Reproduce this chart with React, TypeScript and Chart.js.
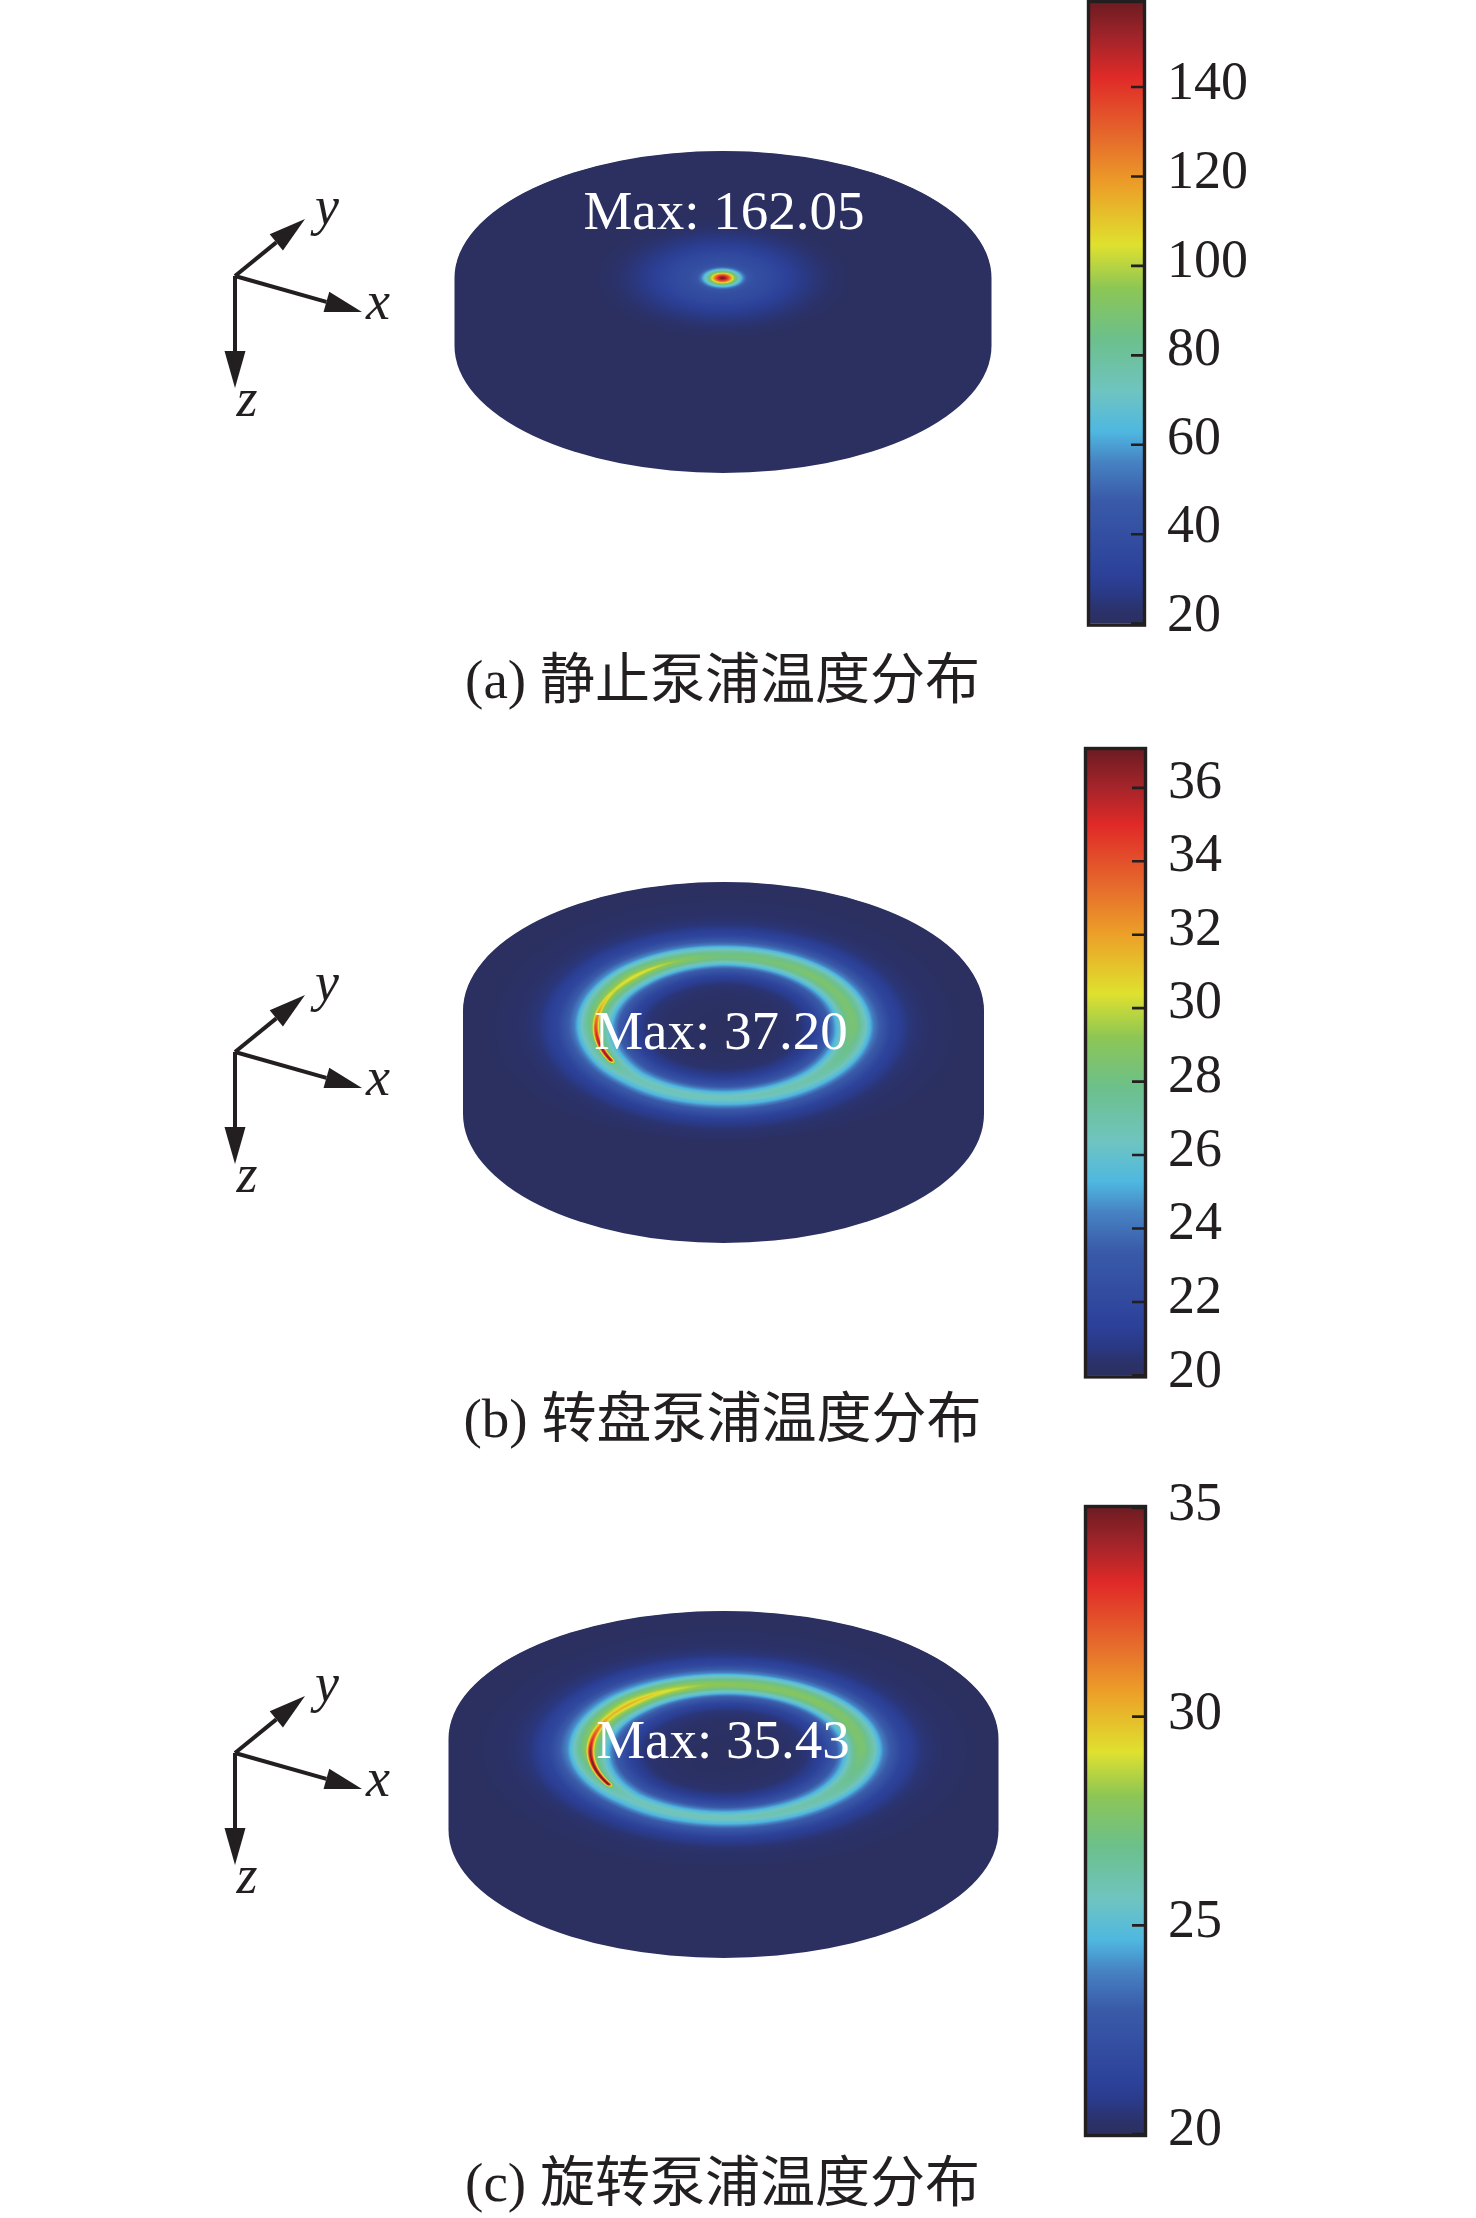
import React, { useEffect, useRef } from "react";
import { Chart, registerables } from "chart.js";

Chart.register(...registerables);

const INK = "#231f20";
const SERIF = '"Liberation Serif", "Times New Roman", serif';
const BASE_TEMPERATURE = 20;
const DISC_RADIUS_MM = 25;

// Colour bar values
const barMaxA = 158.8;
const barMaxB = 37.03;
const barMaxC = 35;
const stepA = 20;
const stepB = 2;
const stepC = 5;

// Colour map (fraction of range, rgb)
const cmapFractions = [0, 0.02, 0.05, 0.08, 0.2, 0.26, 0.31, 0.375, 0.46, 0.54, 0.61, 0.705, 0.78, 0.88, 0.945, 1];
const cmapColours = [
  [43, 48, 96], [43, 50, 106], [42, 58, 135], [44, 65, 153], [58, 91, 169], [70, 130, 195], [79, 184, 224], [111, 196, 192],
  [108, 192, 139], [140, 198, 85], [223, 225, 47], [236, 160, 40], [230, 108, 44], [224, 42, 40], [160, 36, 42], [110, 28, 34],
];

// Panel (a): temperature against distance from the pump spot
const spotRadiusMm = [0, 0.28, 0.56, 0.75, 0.94, 1.12, 1.4, 1.7, 2.06, 2.43, 3, 4.7, 6, 7.5, 8.5, 9.8, 11, 12.5];
const spotTemperature = [162, 150, 135, 122, 108, 95, 80, 65, 52, 43, 40, 36, 31, 27, 25, 23, 21, 20];

// Panels (b), (c): pump ring
const ringAnglesDeg = [0, 45, 90, 135, 180, 210, 225, 270, 315, 360];
const ringPeakB = [28.5, 28.6, 28.2, 29.6, 28.5, 27.5, 26.7, 26.5, 27, 28.5];
const ringPeakC = [27.5, 27.8, 28, 29.1, 28, 26.5, 25.8, 25.8, 26.2, 27.5];
const ringRho = [0, 0.4, 0.6, 0.72, 0.82, 0.9, 0.96, 1, 1.04, 1.1, 1.17, 1.3, 1.45, 1.6, 1.8, 2];
const ringFraction = [0, 0.015, 0.06, 0.18, 0.4, 0.72, 0.96, 1, 0.96, 0.78, 0.5, 0.2, 0.07, 0.03, 0.008, 0];
const streakAnglesB = [0, 100, 125, 150, 165, 180, 195, 208, 211, 360];
const streakExtraB = [0, 0, 1, 1, 3, 6, 8.5, 9.5, 0, 0];
const streakAnglesC = [0, 100, 125, 150, 165, 180, 195, 210, 213, 360];
const streakExtraC = [0, 0, 1, 1.5, 4, 6.5, 8, 9, 0, 0];
const streakOffset = [0, 0.01, 0.02, 0.035];
const streakFraction = [1, 0.8, 0.35, 0];

const maxLabels = ["Max: 162.05", "Max: 37.20", "Max: 35.43"];
const captions = ["(a) 静止泵浦温度分布", "(b) 转盘泵浦温度分布", "(c) 旋转泵浦温度分布"];

function interp(xs: number[], ys: number[], x: number) {
  if (x <= xs[0]) return ys[0];
  for (let i = 1; i < xs.length; i++) {
    if (x <= xs[i]) {
      const t = (x - xs[i - 1]) / (xs[i] - xs[i - 1]);
      return ys[i - 1] + (ys[i] - ys[i - 1]) * t;
    }
  }
  return ys[ys.length - 1];
}

const cmapChannels = [0, 1, 2].map((k) => cmapColours.map((v) => v[k]));
function colourAt(f: number) {
  const c = Math.max(0, Math.min(1, f));
  return cmapChannels.map((ch) => interp(cmapFractions, ch, c));
}

type Field = (x: number, y: number) => number;

const spotField = (x0: number, y0: number): Field => (x, y) =>
  interp(spotRadiusMm, spotTemperature, Math.hypot(x - x0, y - y0));

const ringField = (
  x0: number, y0: number, rx: number, ry: number,
  peak: number[], sAngles: number[], sExtra: number[],
): Field => (x, y) => {
  const dx = (x - x0) / rx;
  const dy = (y - y0) / ry;
  const rho = Math.hypot(dx, dy);
  let th = (Math.atan2(dy, dx) * 180) / Math.PI;
  if (th < 0) th += 360;
  const p = interp(ringAnglesDeg, peak, th);
  const t = BASE_TEMPERATURE + (p - BASE_TEMPERATURE) * interp(ringRho, ringFraction, rho);
  return t + interp(sAngles, sExtra, th) * interp(streakOffset, streakFraction, Math.abs(rho - 1));
};

const panels = [
  {
    top: 0, height: 720, cx: 723, cy: 278, rx: 268.5, ry: 127, drop: 68, barMax: barMaxA, step: stepA,
    field: spotField(-0.05, 0), triad: [235, 276], label: maxLabels[0], labelPos: [724, 213], caption: captions[0], captionY: 680,
    bar: { left: 1090, right: 1143, top: 3, bottom: 623.6 }, lift: [1, 7],
  },
  {
    top: 720, height: 740, cx: 723.5, cy: 1011, rx: 260.5, ry: 129, drop: 103, barMax: barMaxB, step: stepB,
    field: ringField(0.05, -3.1, 12.3, 13.7, ringPeakB, streakAnglesB, streakExtraB),
    triad: [235, 1052], label: maxLabels[1], labelPos: [721, 1033], caption: captions[1], captionY: 1419,
    bar: { left: 1087, right: 1144, top: 750, bottom: 1375.4 }, lift: [4.5, 3],
  },
  {
    top: 1460, height: 758, cx: 723.5, cy: 1739, rx: 275, ry: 128, drop: 91, barMax: barMaxC, step: stepC,
    field: ringField(0.2, -2.34, 12.3, 13, ringPeakC, streakAnglesC, streakExtraC),
    triad: [235, 1753], label: maxLabels[2], labelPos: [723, 1742], caption: captions[2], captionY: 2183,
    bar: { left: 1087, right: 1144, top: 1508, bottom: 2134 }, lift: [2, 3],
  },
];
type Panel = (typeof panels)[number];

function arrow(ctx: CanvasRenderingContext2D, ox: number, oy: number, tx: number, ty: number) {
  const len = Math.hypot(tx - ox, ty - oy);
  const ux = (tx - ox) / len;
  const uy = (ty - oy) / len;
  const bx = tx - ux * 37;
  const by = ty - uy * 37;
  ctx.strokeStyle = INK;
  ctx.fillStyle = INK;
  ctx.lineWidth = 4;
  ctx.beginPath();
  ctx.moveTo(ox, oy);
  ctx.lineTo(bx, by);
  ctx.stroke();
  ctx.beginPath();
  ctx.moveTo(tx, ty);
  ctx.lineTo(bx - uy * 10.5, by + ux * 10.5);
  ctx.lineTo(bx + uy * 10.5, by - ux * 10.5);
  ctx.closePath();
  ctx.fill();
}

function FieldChart({ panel }: { panel: Panel }) {
  const ref = useRef<HTMLCanvasElement>(null);
  useEffect(() => {
    const W = 1084;
    const H = panel.height;
    const kx = panel.rx / DISC_RADIUS_MM;
    const ky = panel.ry / DISC_RADIUS_MM;
    const cyLocal = panel.cy - panel.top;
    const heat = {
      id: "heat",
      beforeDatasetsDraw(chart: any) {
        const { ctx, scales } = chart;
        const sx = scales.x;
        const sy = scales.y;
        const px = sx.getPixelForValue(0);
        const py = sy.getPixelForValue(0);
        const rx = Math.abs(sx.getPixelForValue(DISC_RADIUS_MM) - px);
        const ry = Math.abs(sy.getPixelForValue(DISC_RADIUS_MM) - py);
        const drop = Math.abs(sy.getPixelForValue(-panel.drop / ky) - py);
        ctx.save();
        // disc silhouette
        ctx.fillStyle = "rgb(43,48,96)";
        ctx.beginPath();
        ctx.ellipse(px, py, rx, ry, 0, Math.PI, 2 * Math.PI);
        ctx.lineTo(px + rx, py + drop);
        ctx.ellipse(px, py + drop, rx, ry, 0, 0, Math.PI);
        ctx.closePath();
        ctx.fill();
        // temperature of the top face
        const x0 = Math.floor(px - rx);
        const y0 = Math.floor(py - ry);
        const w = Math.ceil(2 * rx) + 1;
        const h = Math.ceil(2 * ry) + 1;
        const off = document.createElement("canvas");
        off.width = w;
        off.height = h;
        const octx = off.getContext("2d")!;
        const img = octx.createImageData(w, h);
        const range = panel.barMax - BASE_TEMPERATURE;
        for (let j = 0; j < h; j++) {
          const yv = sy.getValueForPixel(y0 + j + 0.5);
          for (let i = 0; i < w; i++) {
            const xv = sx.getValueForPixel(x0 + i + 0.5);
            const c = colourAt((panel.field(xv, yv) - BASE_TEMPERATURE) / range);
            const o = (j * w + i) * 4;
            img.data[o] = c[0];
            img.data[o + 1] = c[1];
            img.data[o + 2] = c[2];
            img.data[o + 3] = 255;
          }
        }
        octx.putImageData(img, 0, 0);
        ctx.beginPath();
        ctx.ellipse(px, py, rx - 0.5, ry - 0.5, 0, 0, 2 * Math.PI);
        ctx.clip();
        ctx.drawImage(off, x0, y0);
        ctx.restore();
      },
      afterDatasetsDraw(chart: any) {
        const { ctx } = chart;
        ctx.save();
        const [ox, oyAbs] = panel.triad;
        const oy = oyAbs - panel.top;
        arrow(ctx, ox, oy, ox + 70, oy - 57);
        arrow(ctx, ox, oy, ox + 127, oy + 36);
        arrow(ctx, ox, oy, ox, oy + 112);
        ctx.fillStyle = INK;
        ctx.textAlign = "center";
        ctx.textBaseline = "alphabetic";
        ctx.font = `italic 54px ${SERIF}`;
        ctx.fillText("y", ox + 92, oy - 52);
        ctx.fillText("x", ox + 143, oy + 43);
        ctx.fillText("z", ox + 12, oy + 140);
        ctx.fillStyle = "#ffffff";
        ctx.font = `55px ${SERIF}`;
        ctx.textBaseline = "middle";
        ctx.fillText(panel.label, panel.labelPos[0], panel.labelPos[1] - panel.top + 2);
        ctx.restore();
      },
    };
    const chart = new Chart(ref.current!, {
      type: "scatter",
      data: { datasets: [{ label: panel.label, data: [{ x: 0, y: 0 }], pointRadius: 0 }] },
      options: {
        animation: false,
        responsive: false,
        devicePixelRatio: 1,
        layout: { padding: 0, autoPadding: false },
        plugins: { legend: { display: false }, tooltip: { enabled: false } },
        scales: {
          x: { type: "linear", display: false, min: -panel.cx / kx, max: (W - panel.cx) / kx },
          y: { type: "linear", display: false, min: (cyLocal - H) / ky, max: cyLocal / ky },
        },
      },
      plugins: [heat],
    } as any);
    return () => chart.destroy();
  }, [panel]);
  return (
    <canvas
      ref={ref}
      width={1084}
      height={panel.height}
      style={{ position: "absolute", left: 0, top: panel.top, width: 1084, height: panel.height }}
    />
  );
}

function ColourBar({ panel }: { panel: Panel }) {
  const ref = useRef<HTMLCanvasElement>(null);
  const left = 1080;
  const width = 240;
  useEffect(() => {
    const b = panel.bar;
    const padLeft = b.left - left;
    const frame = {
      id: "frame",
      afterDatasetsDraw(chart: any) {
        const { ctx, chartArea: a, scales } = chart;
        ctx.save();
        ctx.strokeStyle = INK;
        ctx.lineWidth = 2.6;
        ctx.beginPath();
        scales.y.ticks.forEach((t: any) => {
          const y = scales.y.getPixelForValue(t.value);
          ctx.moveTo(a.right - 12, y);
          ctx.lineTo(a.right + 1, y);
        });
        ctx.stroke();
        ctx.lineWidth = 3.4;
        ctx.strokeRect(a.left - 1.5, a.top - 1.5, a.right - a.left + 3, a.bottom - a.top + 3);
        ctx.fillStyle = INK;
        ctx.font = `54px ${SERIF}`;
        ctx.textAlign = "left";
        ctx.textBaseline = "middle";
        scales.y.ticks.forEach((t: any) => {
          const f = (t.value - BASE_TEMPERATURE) / (panel.barMax - BASE_TEMPERATURE);
          const lift = panel.lift[1] + (panel.lift[0] - panel.lift[1]) * f;
          ctx.fillText(String(t.value), a.right + 24, scales.y.getPixelForValue(t.value) - lift);
        });
        ctx.restore();
      },
    };
    const chart = new Chart(ref.current!, {
      type: "bar",
      data: {
        labels: ["T"],
        datasets: [
          {
            data: [[BASE_TEMPERATURE, panel.barMax]],
            barPercentage: 1,
            categoryPercentage: 1,
            borderWidth: 0,
            backgroundColor: (c: any) => {
              const area = c.chart.chartArea;
              if (!area) return "#2b2f60";
              const g = c.chart.ctx.createLinearGradient(0, area.bottom, 0, area.top);
              cmapFractions.forEach((f, i) => {
                const v = cmapColours[i];
                g.addColorStop(f, `rgb(${v[0]},${v[1]},${v[2]})`);
              });
              return g;
            },
          },
        ],
      },
      options: {
        animation: false,
        responsive: false,
        devicePixelRatio: 1,
        layout: {
          autoPadding: false,
          padding: {
            left: padLeft,
            top: b.top - panel.top,
            bottom: panel.top + panel.height - b.bottom,
            right: left + width - b.right,
          },
        },
        plugins: { legend: { display: false }, tooltip: { enabled: false } },
        scales: {
          x: { display: false },
          y: {
            position: "right",
            min: BASE_TEMPERATURE,
            max: panel.barMax,
            grid: { display: false, drawTicks: false },
            border: { display: false },
            ticks: { display: false, stepSize: panel.step, includeBounds: false },
          },
        },
      },
      plugins: [frame],
    } as any);
    return () => chart.destroy();
  }, [panel]);
  return (
    <canvas
      ref={ref}
      width={width}
      height={panel.height}
      style={{ position: "absolute", left, top: panel.top, width, height: panel.height }}
    />
  );
}

export default function App() {
  return (
    <div style={{ position: "absolute", left: 0, top: 0, width: 1476, height: 2218, overflow: "hidden", background: "#fff" }}>
      {panels.map((p) => (
        <React.Fragment key={p.caption}>
          <FieldChart panel={p} />
          <ColourBar panel={p} />
          <div
            style={{
              position: "absolute",
              left: 0,
              width: 1445,
              top: p.captionY - 40,
              height: 80,
              lineHeight: "80px",
              textAlign: "center",
              whiteSpace: "pre",
              color: INK,
              fontSize: 55,
              fontFamily: `${SERIF.split(",")[0]}, "Noto Sans CJK SC", sans-serif`,
            }}
          >
            {p.caption}
          </div>
        </React.Fragment>
      ))}
    </div>
  );
}
